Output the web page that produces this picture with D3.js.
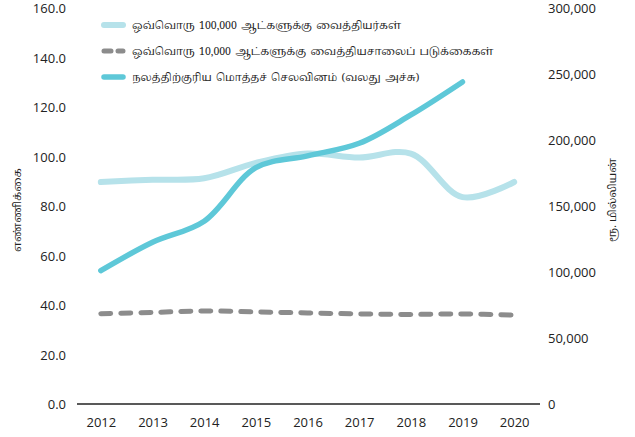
<!DOCTYPE html>
<html><head><meta charset="utf-8">
<script src="https://cdn.jsdelivr.net/npm/d3@7"></script>
<style>
body{margin:0;background:#fff}
text{fill:#222}
</style></head>
<body><svg id="c" width="635" height="437"></svg>
<script>
const years = [2012,2013,2014,2015,2016,2017,2018,2019,2020];
const doctors = [89.7,90.6,91.2,97.4,101.2,99.6,101.2,83.6,89.7];
const beds = [36.5,37.0,37.6,37.2,36.8,36.4,36.2,36.4,35.9];
const expenditure = [101000,122500,138500,179000,188000,197500,219000,244000,null];
const leftTicks = [0,20,40,60,80,100,120,140,160];
const rightTicks = [0,50000,100000,150000,200000,250000,300000];
const seriesNames = ["ஒவ்வொரு 100,000 ஆட்களுக்கு வைத்தியர்கள்","ஒவ்வொரு 10,000 ஆட்களுக்கு வைத்தியசாலைப் படுக்கைகள்","நலத்திற்குரிய மொத்தச் செலவினம் (வலது அச்சு)"];
const leftTitle = "எண்ணிக்கை";
const rightTitle = "ரூ. மில்லியன்";

const svg = d3.select("#c");
const x = d3.scalePoint().domain(years).range([75,540]).padding(0.5);
const yL = d3.scaleLinear().domain([0,160]).range([404,8]);
const yR = d3.scaleLinear().domain([0,300000]).range([404,8]);
const tickFont = "'Open Sans', Carlito, sans-serif";
const tamilFont = "'Noto Serif Tamil','Noto Sans Tamil','Latha',serif";

// left axis
const gL = svg.append("g").attr("transform","translate(66,0)")
  .call(d3.axisLeft(yL).tickValues(leftTicks).tickSize(0).tickPadding(0).tickFormat(d3.format(".1f")));
gL.select(".domain").remove();
gL.selectAll("text").attr("font-size",13).attr("font-family",tickFont).attr("fill","#333").attr("dy","0.35em");

// right axis
const gR = svg.append("g").attr("transform","translate(548,0)")
  .call(d3.axisRight(yR).tickValues(rightTicks).tickSize(0).tickPadding(0).tickFormat(d3.format(",")));
gR.select(".domain").remove();
gR.selectAll("text").attr("font-size",13).attr("font-family",tickFont).attr("fill","#333").attr("dy","0.35em");

// x axis
const gX = svg.append("g").attr("transform","translate(0,404)")
  .call(d3.axisBottom(x).tickSize(0).tickPadding(14).tickFormat(d3.format("d")));
gX.select(".domain").attr("d","M77,0H540").attr("stroke","#222").attr("stroke-width",1.3);
gX.selectAll("text").attr("font-size",13).attr("font-family",tickFont).attr("fill","#333");

// titles
svg.append("text").attr("transform","translate(21,210) rotate(-90)").attr("text-anchor","middle")
  .attr("font-size",11).attr("font-family",tamilFont).text(leftTitle);
svg.append("text").attr("transform","translate(616,200) rotate(-90)").attr("text-anchor","middle")
  .attr("font-size",11).attr("font-family",tamilFont).text(rightTitle);

const curve = d3.curveCatmullRom.alpha(0.5);
const lineL = d3.line().x((d,i)=>x(years[i])).y(d=>yL(d)).curve(curve);
const lineR = d3.line().defined(d=>d!=null).x((d,i)=>x(years[i])).y(d=>yR(d)).curve(curve);

svg.append("path").datum(beds).attr("d",lineL).attr("fill","none")
  .attr("stroke","#8c8c8c").attr("stroke-width",5).attr("stroke-linecap","round").attr("stroke-dasharray","10,10");
svg.append("path").datum(doctors).attr("d",lineL).attr("fill","none")
  .attr("stroke","#b6e2ea").attr("stroke-width",6).attr("stroke-linecap","round");
svg.append("path").datum(expenditure).attr("d",lineR).attr("fill","none")
  .attr("stroke","#5ec8d8").attr("stroke-width",5.5).attr("stroke-linecap","round");

// legend
const styles = [
  {stroke:"#b6e2ea",dash:null,w:6},
  {stroke:"#8c8c8c",dash:"7,7",w:5},
  {stroke:"#5ec8d8",dash:null,w:5.5}
];
const lg = svg.append("g");
seriesNames.forEach((n,i)=>{
  const yy = 25 + i*26;
  lg.append("line").attr("x1",104).attr("x2",123).attr("y1",yy).attr("y2",yy)
    .attr("stroke",styles[i].stroke).attr("stroke-width",styles[i].w).attr("stroke-linecap","round")
    .attr("stroke-dasharray",styles[i].dash);
  lg.append("text").attr("x",132).attr("y",yy).attr("dy","0.35em").attr("font-size",10.5)
    .attr("word-spacing",1.5)
    .attr("font-family",tamilFont).attr("fill","#222").text(n);
});
</script></body></html>
